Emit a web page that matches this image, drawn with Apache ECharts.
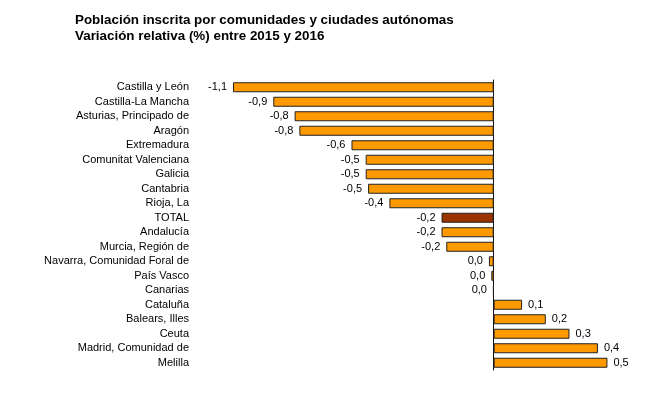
<!DOCTYPE html>
<html>
<head>
<meta charset="utf-8">
<script src="https://cdn.jsdelivr.net/npm/echarts@6/dist/echarts.min.js"></script>
<style>
    html, body { margin: 0; padding: 0; background: #fff; }
    #chart_var { width: 657px; height: 397px; }
</style>
</head>
<body>
<div id="chart_var"></div>
<script>
// 数据
var regiones = ['Castilla y León', 'Castilla-La Mancha', 'Asturias, Principado de', 'Aragón',
    'Extremadura', 'Comunitat Valenciana', 'Galicia', 'Cantabria', 'Rioja, La', 'TOTAL',
    'Andalucía', 'Murcia, Región de', 'Navarra, Comunidad Foral de', 'País Vasco', 'Canarias',
    'Cataluña', 'Balears, Illes', 'Ceuta', 'Madrid, Comunidad de', 'Melilla'];
var variacion = [-1.10, -0.93, -0.84, -0.82, -0.60, -0.54, -0.54, -0.53, -0.44, -0.22,
    -0.22, -0.20, -0.02, -0.01, -0.002, 0.12, 0.22, 0.32, 0.44, 0.48];

initVarChart();

function fmt(v) {
    var s = v.toFixed(1);
    if (s === '-0.0') s = '0.0';
    return s.replace('.', ',');
}

function initVarChart() {
    var myChart = echarts.init(document.getElementById('chart_var'));

    var datos = [];
    for (var i = 0; i < variacion.length; i++) {
        var v = variacion[i];
        datos.push({
            value: v,
            itemStyle: { color: regiones[i] === 'TOTAL' ? '#993300' : '#ff9900' },
            label: { position: v < 0 ? 'left' : 'right' }
        });
    }

    var option = {
        animation: false,
        textStyle: { fontFamily: 'Liberation Sans, Arial, sans-serif' },
        title: {
            text: 'Población inscrita por comunidades y ciudades autónomas\nVariación relativa (%) entre 2015 y 2016',
            left: 75,
            top: 12,
            padding: 0,
            textStyle: {
                fontSize: 13.4,
                fontWeight: 'bold',
                color: '#000',
                lineHeight: 16,
                fontFamily: 'Liberation Sans, Arial, sans-serif'
            }
        },
        grid: {
            left: 233,
            right: 33,
            top: 80,
            bottom: 27,
            containLabel: false,
            outerBoundsMode: 'none'
        },
        xAxis: {
            type: 'value',
            min: -1.1,
            max: 0.55,
            show: false
        },
        yAxis: [
            {
                // solo etiquetas, a la izquierda
                type: 'category',
                data: regiones,
                inverse: true,
                position: 'left',
                axisLine: { show: false, onZero: false },
                axisTick: { show: false },
                axisLabel: {
                    margin: 44,
                    fontSize: 11,
                    color: '#000'
                }
            },
            {
                // eje en el cero
                type: 'category',
                data: regiones,
                inverse: true,
                position: 'left',
                axisLine: {
                    onZero: true,
                    lineStyle: { color: '#111', width: 1 }
                },
                axisTick: {
                    inside: true,
                    length: 4,
                    lineStyle: { color: '#777' }
                },
                axisLabel: { show: false }
            }
        ],
        series: [
            {
                name: 'Variación',
                type: 'bar',
                barWidth: 10,
                itemStyle: {
                    borderColor: '#222',
                    borderWidth: 1
                },
                label: {
                    show: true,
                    distance: 6,
                    fontSize: 11,
                    color: '#000',
                    formatter: function (p) { return fmt(p.value); }
                },
                data: datos
            }
        ]
    };

    myChart.setOption(option);
}
</script>
</body>
</html>
